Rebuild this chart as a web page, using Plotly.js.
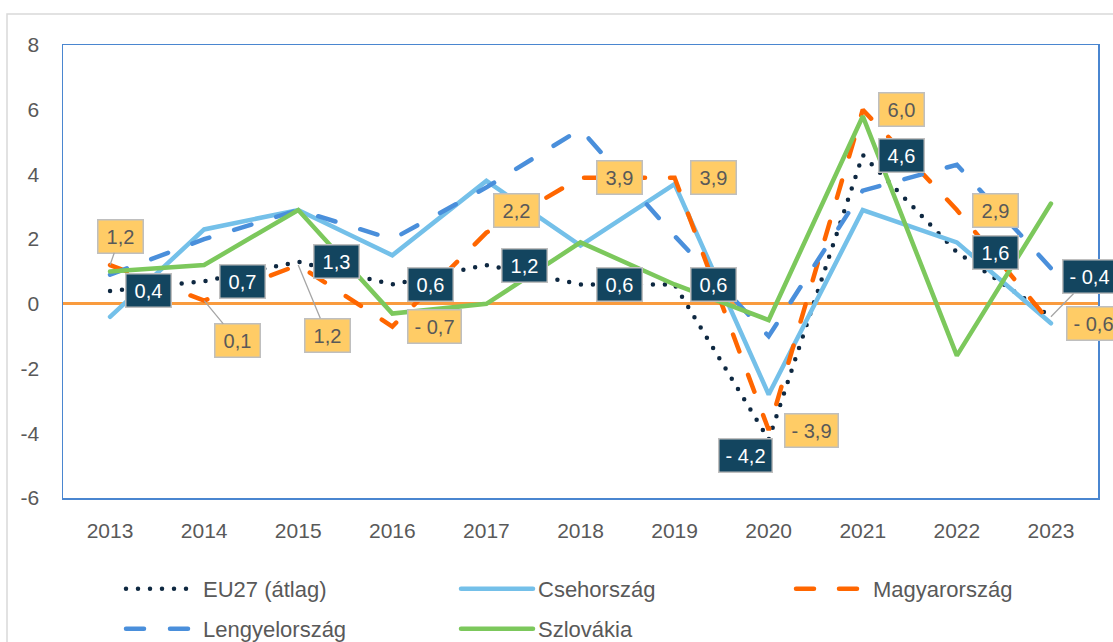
<!DOCTYPE html>
<html><head><meta charset="utf-8">
<script src="https://cdn.plot.ly/plotly-3.0.1.min.js"></script>
<style>
html,body{margin:0;padding:0;background:#fff;overflow:hidden}
#chart{width:1113px;height:642px}
.scatterlayer .js-line, .legendlines .js-line{stroke-linecap:round;}
</style></head><body><div id="chart"></div>
<script>
// ---- data ----
const years   = ['2013','2014','2015','2016','2017','2018','2019','2020','2021','2022','2023'];
const eu27    = [0.4, 0.7, 1.3, 0.6, 1.2, 0.6, 0.6, -4.2, 4.6, 1.6, -0.4];
const cseh    = [-0.4, 2.3, 2.9, 1.5, 3.8, 1.8, 3.7, -2.8, 2.9, 1.9, -0.6];
const magyar  = [1.2, 0.1, 1.2, -0.7, 2.2, 3.9, 3.9, -3.9, 6.0, 2.9, -0.6];
const lengyel = [0.9, 2.0, 2.9, 2.0, 3.6, 5.4, 2.1, -1.0, 3.5, 4.3, 1.1];
const szlovak = [1.0, 1.2, 2.9, -0.3, 0.0, 1.9, 0.6, -0.5, 5.8, -1.6, 3.1];
const names   = ['EU27 (átlag)', 'Csehország', 'Magyarország', 'Lengyelország', 'Szlovákia'];
const yTicks  = [-6, -4, -2, 0, 2, 4, 6, 8];

// ---- styles ----
const FONT = 'Liberation Sans, Arial, sans-serif';
const GRAY = '#595959';
const lineStyles = [
  {color:'#0E2841', width:4.5, dash:'0px,12px'},
  {color:'#74C0E9', width:4.5, dash:'solid'},
  {color:'#FF6600', width:4.5, dash:'18px,25px'},
  {color:'#4A8FDB', width:4.5, dash:'18px,26px'},
  {color:'#7CC85C', width:4.5, dash:'solid'}
];
const series = [eu27, cseh, magyar, lengyel, szlovak];
const legendOf = ['legend','legend','legend','legend2','legend2'];

const traces = series.map((s, i) => ({
  type:'scatter', mode:'lines', x:years, y:s, name:names[i],
  line:lineStyles[i], legend:legendOf[i], hoverinfo:'skip'
}));

const fmt = v => (v < 0 ? '- ' : '') + Math.abs(v).toFixed(1).replace('.', ',');

// label placement styles: r = right of point, c = shifted box, a = with leader line
const euPos = [['r'],['r'],['r'],['r'],['r'],['r'],['r'],['c',-23,16],['r'],['r'],['a',39,-40]];
const huPos = [['a',10,-29],['a',33,40],['a',29,70],['r'],['c',30,-22],['r'],['r'],['r'],['r'],['r'],['r']];

function makeAnn(vals, pos, bg, fc) {
  return vals.map((v, i) => {
    const p = pos[i];
    const a = {
      x: i, y: v, xref:'x', yref:'y', text: fmt(v),
      font:{family:FONT, size:20, color:fc},
      bgcolor:bg, bordercolor:'#BFBFBF', borderwidth:1.5, borderpad:5,
      width: v < 0 ? 42 : 34, align:'center'
    };
    if (p[0] === 'r') {
      Object.assign(a, {showarrow:false, xanchor:'left', yanchor:'middle', xshift:15});
    } else if (p[0] === 'c') {
      Object.assign(a, {showarrow:false, xanchor:'center', yanchor:'middle', xshift:p[1], yshift:-p[2]});
    } else {
      Object.assign(a, {showarrow:true, ax:p[1], ay:p[2], arrowhead:0, arrowwidth:1.3,
        arrowcolor:'#A6A6A6', standoff:0});
    }
    return a;
  });
}
const annotations = makeAnn(eu27, euPos, '#13455F', '#FFFFFF')
  .concat(makeAnn(magyar, huPos, '#FFCC66', GRAY));

const legendCommon = {
  orientation:'h', xref:'container', yref:'container', xanchor:'left', yanchor:'middle',
  font:{family:FONT, size:22, color:GRAY}, itemwidth:72,
  entrywidth:248, entrywidthmode:'pixels', bgcolor:'rgba(0,0,0,0)', traceorder:'normal'
};

const layout = {
  width:1113, height:642,
  margin:{l:63, r:15, t:45, b:144},
  paper_bgcolor:'#FFFFFF', plot_bgcolor:'#FFFFFF',
  font:{family:FONT, color:GRAY},
  showlegend:true,
  legend:Object.assign({}, legendCommon, {x:121/1113, y:1-589/642}),
  legend2:Object.assign({}, legendCommon, {x:121/1113, y:1-629/642}),
  xaxis:{
    type:'category', range:[-0.5, 10.5], showgrid:false, zeroline:false,
    showline:true, mirror:true, linecolor:'#4A86D0', linewidth:1.5,
    ticks:'', tickfont:{family:FONT, size:21, color:GRAY}, ticklabelstandoff:13
  },
  yaxis:{
    range:[-6, 8], tickvals:yTicks, ticktext:yTicks.map(String),
    showgrid:false, zeroline:true, zerolinecolor:'#F99B3E', zerolinewidth:3,
    showline:true, mirror:true, linecolor:'#4A86D0', linewidth:1.5,
    ticks:'', tickfont:{family:FONT, size:21, color:GRAY}, ticklabelstandoff:18
  },
  shapes:[{type:'rect', xref:'paper', yref:'paper', x0:(7-63)/1035, x1:1.3, y0:-1, y1:(498-14)/453,
    line:{color:'#D9D9D9', width:1.5}, fillcolor:'rgba(0,0,0,0)', layer:'below'}],
  annotations:annotations
};

Plotly.newPlot('chart', traces, layout, {staticPlot:true, displayModeBar:false});
</script></body></html>
